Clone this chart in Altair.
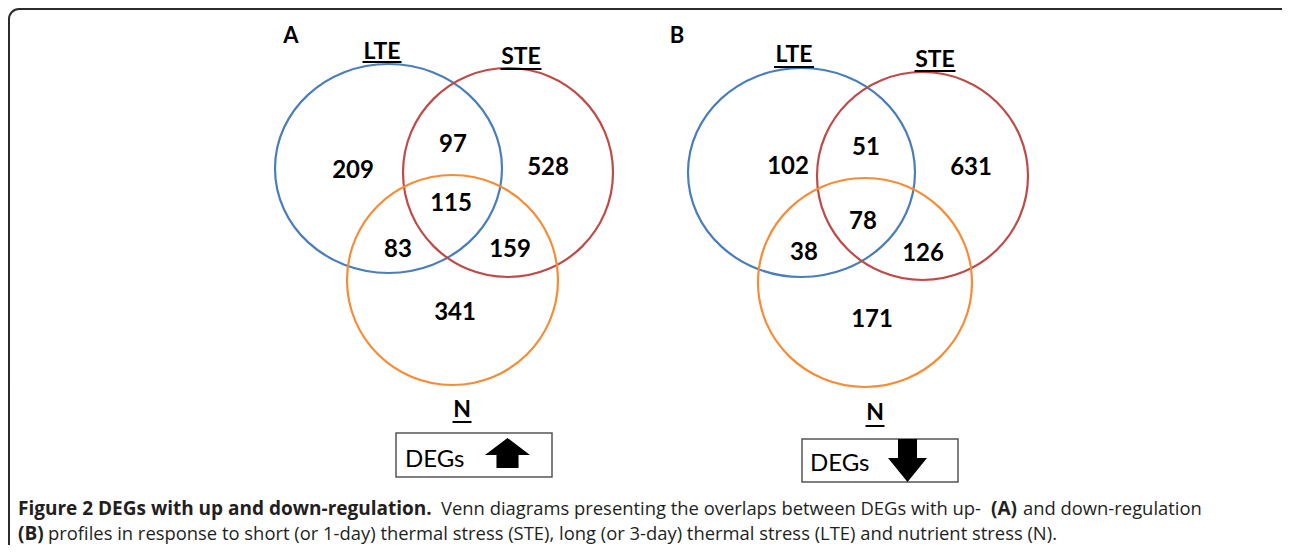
import altair as alt
import pandas as pd

# ---------------- data ----------------
panel_names = ["A", "B"]
set_names = ["LTE", "STE", "N"]
region_names = ["LTE only", "LTE & STE", "STE only", "LTE & N", "LTE & STE & N", "STE & N", "N only"]
up_counts = [209, 97, 528, 83, 115, 159, 341]
down_counts = [102, 51, 631, 38, 78, 126, 171]
box_text = "DEGs"
caption_line1 = [
    ("Figure 2 DEGs with up and down-regulation.", "bold"),
    ("Venn diagrams presenting the overlaps between DEGs with up-", "normal"),
    ("(A)", "bold"),
    ("and down-regulation", "normal"),
]
caption_line2 = [
    ("(B)", "bold"),
    ("profiles in response to short (or 1-day) thermal stress (STE), long (or 3-day) "
     "thermal stress (LTE) and nutrient stress (N).", "normal"),
]

# ---------------- layout (page pixel coordinates) ----------------
W, H = 1274, 537
set_colors = {"LTE": "#4a7ebb", "STE": "#be4b48", "N": "#f68c36"}
circle_geom = {  # cx, cy, width, height
    "A": {"LTE": (388.5, 168.5, 227, 209), "STE": (508, 172.5, 210, 209), "N": (452.5, 280, 211, 210)},
    "B": {"LTE": (801.5, 172.5, 227, 209), "STE": (922.5, 176, 211, 208), "N": (865, 282.5, 214, 209)},
}
region_pos = {
    "A": [(353, 171), (453, 145), (548, 168), (398, 250), (451, 204), (510, 250), (455, 313)],
    "B": [(788, 167), (866, 148), (971, 168), (804, 253), (863, 222), (923, 254), (872, 320)],
}
set_label_pos = {  # text cx, text cy, underline y, underline width
    "A": {"LTE": (382, 52, 62, 39), "STE": (521, 57, 69, 41), "N": (462, 410, 422, 19)},
    "B": {"LTE": (794, 55, 67, 40), "STE": (935, 59.5, 71, 41), "N": (875, 413, 426, 19)},
}
panel_letter_pos = {"A": (291, 35.5), "B": (677, 36)}
box_geom = {"A": (396, 552, 433, 477), "B": (802, 958, 439, 482)}
box_text_pos = {"A": (405, 467), "B": (810, 471)}
arrow_geom = {  # cx, cy, width(px), path
    "A": (507.5, 453, 45, "M 0 -0.667 L 1 0.089 L 0.49 0.089 L 0.49 0.667 L -0.49 0.667 L -0.49 0.089 L -1 0.089 Z"),
    "B": (907.5, 460.5, 39, "M -0.487 -1.1 L 0.487 -1.1 L 0.487 -0.126 L 1 -0.126 L 0 1.1 L -1 -0.126 L -0.487 -0.126 Z"),
}
caption_x1 = [18, 441, 991, 1023]
caption_x2 = [18, 48]
caption_y = [515, 540]
caption_size_bold = 19
caption_size_reg = 18.4


def ellipse_path(ratio):
    k = 0.5523
    r = ratio
    f = lambda v: f"{v:.4f}"
    return (f"M 1 0 C 1 {f(k*r)} {f(k)} {f(r)} 0 {f(r)} C {f(-k)} {f(r)} -1 {f(k*r)} -1 0 "
            f"C -1 {f(-k*r)} {f(-k)} {f(-r)} 0 {f(-r)} C {f(k)} {f(-r)} 1 {f(-k*r)} 1 0 Z")


counts = {"A": up_counts, "B": down_counts}

circ_rows, num_rows, lab_rows, ul_rows, letter_rows, box_rows, boxt_rows, arrow_rows = ([] for _ in range(8))
for p in panel_names:
    for s in set_names:
        cx, cy, w, h = circle_geom[p][s]
        circ_rows.append(dict(x=cx, y=cy, size=w * w, shape=ellipse_path(h / w), color=set_colors[s]))
        tx, ty, uy, uw = set_label_pos[p][s]
        lab_rows.append(dict(x=tx, y=ty, label=s))
        ul_rows.append(dict(x=tx - uw / 2, x2=tx + uw / 2, y=uy))
    for r, v, (x, y) in zip(region_names, counts[p], region_pos[p]):
        num_rows.append(dict(x=x, y=y, region=r, value=v))
    lx, ly = panel_letter_pos[p]
    letter_rows.append(dict(x=lx, y=ly, label=p))
    bx, bx2, by, by2 = box_geom[p]
    box_rows.append(dict(x=bx, x2=bx2, y=by, y2=by2))
    tx, ty = box_text_pos[p]
    boxt_rows.append(dict(x=tx, y=ty, label=box_text))
    ax, ay, aw, ap = arrow_geom[p]
    arrow_rows.append(dict(x=ax, y=ay, size=aw * aw, shape=ap))

cap_rows = []
for (txt, wt), x in zip(caption_line1, caption_x1):
    cap_rows.append(dict(x=x, y=caption_y[0], label=txt, weight=wt))
for (txt, wt), x in zip(caption_line2, caption_x2):
    cap_rows.append(dict(x=x, y=caption_y[1], label=txt, weight=wt))

xs = alt.Scale(domain=[8, 8 + W], nice=False, zero=False)
ys = alt.Scale(domain=[8, 8 + H], nice=False, zero=False, reverse=True)
X = lambda f="x": alt.X(f"{f}:Q", scale=xs, axis=None)
Y = lambda f="y": alt.Y(f"{f}:Q", scale=ys, axis=None)

border = alt.Chart(pd.DataFrame([dict(x=9, x2=1300, y=9, y2=570)])).mark_rect(
    cornerRadius=10, fill="white", fillOpacity=0, stroke="#2b2b2b", strokeWidth=2
).encode(x=X(), x2="x2:Q", y=Y(), y2="y2:Q")

circles = alt.Chart(pd.DataFrame(circ_rows)).mark_point(filled=False, strokeWidth=2.2, opacity=1).encode(
    x=X(), y=Y(),
    size=alt.Size("size:Q", scale=None),
    shape=alt.Shape("shape:N", scale=None),
    stroke=alt.Stroke("color:N", scale=None),
)

numbers = alt.Chart(pd.DataFrame(num_rows)).mark_text(
    font="Lato", fontWeight="bold", fontSize=24, align="center", baseline="middle", color="black"
).encode(x=X(), y=Y(), text="value:N")

labels = alt.Chart(pd.DataFrame(lab_rows)).mark_text(
    font="Lato", fontWeight="bold", fontSize=23, align="center", baseline="middle", color="black"
).encode(x=X(), y=Y(), text="label:N")

underlines = alt.Chart(pd.DataFrame(ul_rows)).mark_rule(color="black", strokeWidth=2).encode(
    x=X(), x2="x2:Q", y=Y()
)

letters = alt.Chart(pd.DataFrame(letter_rows)).mark_text(
    font="Lato", fontWeight="bold", fontSize=22, align="center", baseline="middle", color="black"
).encode(x=X(), y=Y(), text="label:N")

boxes = alt.Chart(pd.DataFrame(box_rows)).mark_rect(
    fill="white", fillOpacity=0, stroke="#555555", strokeWidth=1.5
).encode(x=X(), x2="x2:Q", y=Y(), y2="y2:Q")

box_texts = alt.Chart(pd.DataFrame(boxt_rows)).mark_text(
    font="Lato", fontSize=24, align="left", baseline="alphabetic", color="black"
).encode(x=X(), y=Y(), text="label:N")

arrows = alt.Chart(pd.DataFrame(arrow_rows)).mark_point(filled=True, opacity=1, color="black").encode(
    x=X(), y=Y(),
    size=alt.Size("size:Q", scale=None),
    shape=alt.Shape("shape:N", scale=None),
)

cap_df = pd.DataFrame(cap_rows)
cap_bold = alt.Chart(cap_df[cap_df.weight == "bold"]).mark_text(
    font="Open Sans", fontWeight="bold", fontSize=caption_size_bold, align="left", baseline="alphabetic",
    color="#231f20"
).encode(x=X(), y=Y(), text="label:N")
cap_reg = alt.Chart(cap_df[cap_df.weight == "normal"]).mark_text(
    font="Open Sans", fontSize=caption_size_reg, align="left", baseline="alphabetic", color="#231f20"
).encode(x=X(), y=Y(), text="label:N")

chart = alt.layer(
    border, circles, numbers, labels, underlines, letters, boxes, box_texts, arrows, cap_bold, cap_reg
).properties(width=W, height=H, autosize=alt.AutoSizeParams(type="none"), padding=0).configure_view(stroke=None)

chart.save("out.html", embed_options={"renderer": "svg", "actions": False})
